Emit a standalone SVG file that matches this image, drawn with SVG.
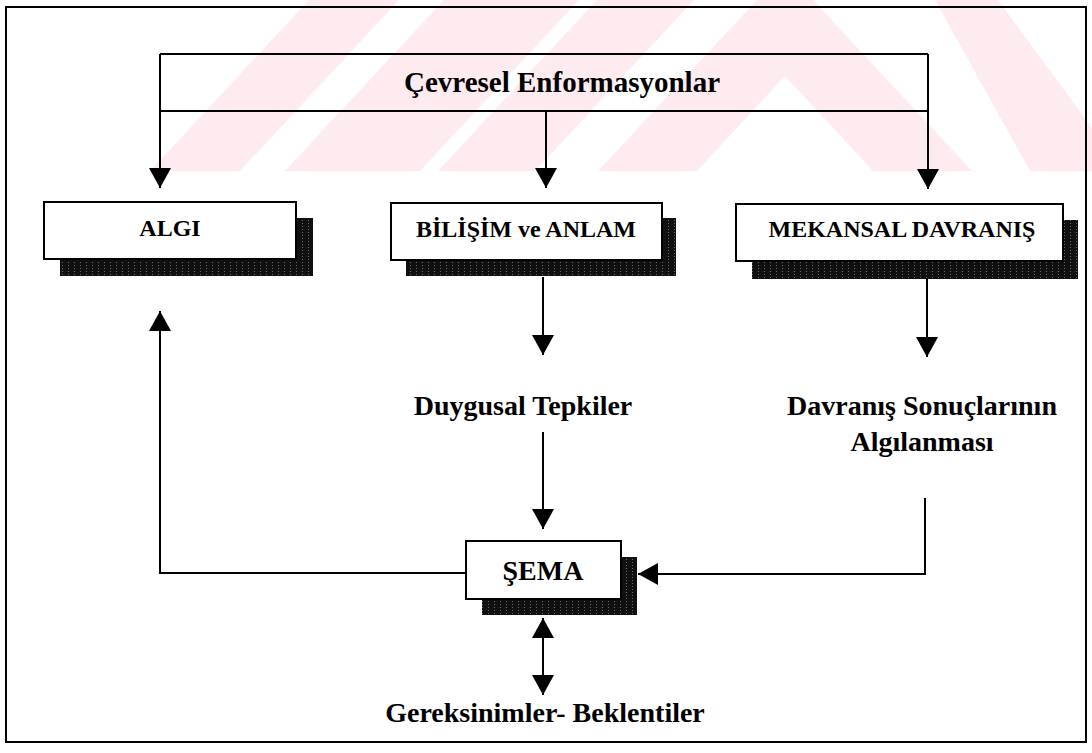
<svg xmlns="http://www.w3.org/2000/svg" width="1092" height="753" viewBox="0 0 1092 753">
  <style>
    .ln { fill: none; stroke: #000; stroke-width: 2; }
    .arr { marker-end: url(#ah); }
    .box { fill: #fff; stroke: #000; stroke-width: 2; }
    .shadow { fill: url(#halftone); }
    .lbl { font-family: "Liberation Serif", "Times New Roman", serif; font-weight: bold; fill: #000; text-anchor: middle; }
    .wm { fill: #fdebef; }
  </style>
  <defs>
    <marker id="ah" markerUnits="userSpaceOnUse" markerWidth="20" markerHeight="22" refX="20" refY="11" orient="auto-start-reverse">
      <path d="M0,0 L20,11 L0,22 z" fill="#000"/>
    </marker>
    <pattern id="halftone" patternUnits="userSpaceOnUse" width="6" height="3">
      <rect width="6" height="3" fill="#101010"/>
      <rect x="2" y="1" width="1" height="1" fill="#6a6a6a"/>
    </pattern>
    <clipPath id="wmclip">
      <rect x="0" y="0" width="1092" height="171"/>
    </clipPath>
  </defs>

  <rect width="1092" height="753" fill="#fff"/>

  <g id="watermark" clip-path="url(#wmclip)">
    <polygon class="wm" points="150,171 240,171 399,0 309,0"/>
    <polygon class="wm" points="285,171 420,171 579,0 444,0"/>
    <polygon class="wm" points="438,171 535,171 694,0 597,0"/>
    <polygon class="wm" points="598,171 697,171 785,76 873,171 972,171 785,-30"/>
    <polygon class="wm" points="935,0 998,0 1092,128 1092,171 1030,171"/>
  </g>

  <rect id="frame" x="6" y="7" width="1080" height="735" class="ln"/>

  <g id="connectors">
    <path class="ln" d="M160,54 L928,54 M160,111 L928,111"/>
    <path class="ln arr" d="M160,54 L160,188"/>
    <path class="ln arr" d="M928,54 L928,189"/>
    <path class="ln arr" d="M546,111 L546,188"/>
    <path class="ln arr" d="M543,277 L543,355"/>
    <path class="ln arr" d="M927,279 L927,357"/>
    <path class="ln arr" d="M543,432 L543,529"/>
    <path class="ln arr" d="M925,498 L925,574 L638,574"/>
    <path class="ln arr" d="M466,573 L160,573 L160,311"/>
    <path class="ln" d="M543,618 L543,695" marker-start="url(#ah)" marker-end="url(#ah)"/>
  </g>

  <g id="cevresel">
    <text class="lbl" x="562" y="92" font-size="29">Çevresel Enformasyonlar</text>
  </g>

  <g id="algi">
    <rect class="shadow" x="60" y="218" width="253" height="58"/>
    <rect class="box" x="44" y="202" width="252" height="57"/>
    <text class="lbl" x="170" y="236" font-size="24">ALGI</text>
  </g>

  <g id="bilisim">
    <rect class="shadow" x="406" y="218" width="270" height="58"/>
    <rect class="box" x="391" y="203" width="271" height="57"/>
    <text class="lbl" x="526" y="237" font-size="24">BİLİŞİM ve ANLAM</text>
  </g>

  <g id="mekansal">
    <rect class="shadow" x="752" y="220" width="326" height="59"/>
    <rect class="box" x="736" y="204" width="327" height="57"/>
    <text class="lbl" x="902" y="237" font-size="24">MEKANSAL DAVRANIŞ</text>
  </g>

  <g id="duygusal">
    <text class="lbl" x="523" y="415" font-size="28">Duygusal Tepkiler</text>
  </g>

  <g id="davranis">
    <text class="lbl" x="922" y="415" font-size="28">Davranış Sonuçlarının</text>
    <text class="lbl" x="922" y="451" font-size="28">Algılanması</text>
  </g>

  <g id="sema">
    <rect class="shadow" x="482" y="557" width="155" height="58"/>
    <rect class="box" x="466" y="541" width="155" height="58"/>
    <text class="lbl" x="543" y="580" font-size="28">ŞEMA</text>
  </g>

  <g id="gereksinimler">
    <text class="lbl" x="545" y="722" font-size="28">Gereksinimler- Beklentiler</text>
  </g>
</svg>
